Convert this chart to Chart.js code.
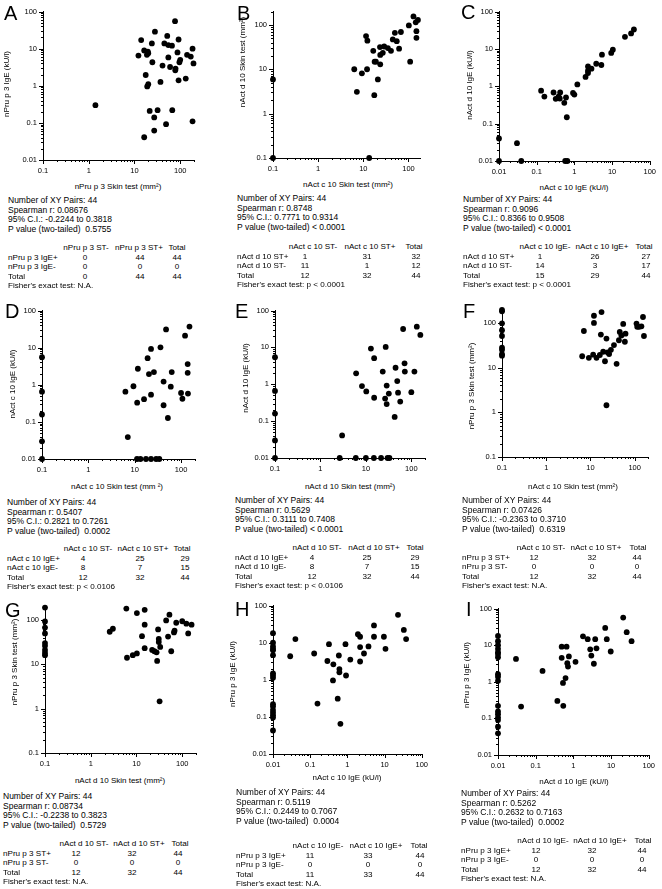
<!DOCTYPE html>
<html>
<head>
<meta charset="utf-8">
<script src="https://cdn.jsdelivr.net/npm/chart.js@4.4.1/dist/chart.umd.min.js"></script>
<style>
  html, body { margin: 0; padding: 0; background: #fff; }
  #page { position: relative; width: 662px; height: 889px; overflow: hidden;
          font-family: "Liberation Sans", Arial, Helvetica, sans-serif; color: #000; }
  .box { position: absolute; }
  .t { position: absolute; white-space: pre; font-size: 8.5px; line-height: 10px; }
  .tb { position: absolute; white-space: pre; font-size: 8.1px; line-height: 10px; }
  .ax { position: absolute; white-space: pre; font-size: 8px; line-height: 10px; }
  .letter { position: absolute; font-size: 20px; line-height: 20px; }
</style>
</head>
<body>
<div id="page"></div>
<script>
// ---- values (x, y per panel) ----
const ptsAx = [1.4, 77, 28, 52, 14, 92, 24, 45, 55, 66, 186, 16.3, 19.6, 12.2, 18.7, 20, 87, 141, 170, 55, 100, 96, 24.6, 195, 41, 60, 79, 78, 17.6, 132, 92, 37, 20, 19, 21.5, 32, 67, 27, 186, 49, 27, 16.3];
const ptsAy = [0.30, 55, 28.6, 22, 17, 17.6, 13.8, 13.8, 12.5, 12, 10, 8.9, 8.3, 6.5, 6.8, 7.5, 7.9, 6.8, 6.1, 5.8, 5.0, 4.3, 4.3, 4.0, 3.5, 3.2, 2.9, 2.6, 1.95, 1.56, 1.4, 1.27, 1.1, 0.96, 0.21, 0.22, 0.22, 0.14, 0.11, 0.092, 0.062, 0.041];

const ptsBx = [0.1, 0.1, 13.5, 129, 162, 145, 102, 11.5, 12.3, 68, 50, 150, 150, 45, 55, 29, 23.4, 35, 41, 62, 16.6, 27, 23.7, 19, 17.8, 23.7, 109, 6.3, 12.1, 9.3, 21, 7.2, 17.5];
const ptsBy = [5.9, 0.1, 0.1, 155, 129, 114, 97, 56, 44, 69, 66, 72, 51, 47, 43, 32.5, 31.6, 30, 26, 29, 26, 23.4, 21, 14.8, 14.8, 12.9, 14.8, 10, 10, 8.1, 5.9, 3.1, 2.6];

const ptsCx = [0.01, 0.01, 0.030, 0.039, 0.57, 0.65, 0.131, 0.16, 0.28, 0.32, 0.41, 0.42, 0.38, 0.54, 0.6, 0.63, 0.92, 1.0, 1.2, 1.98, 2.3, 2.3, 2.3, 2.84, 3.8, 5.2, 5.4, 9.5, 10.5, 22, 32, 38];
const ptsCy = [0.040, 0.01, 0.030, 0.01, 0.01, 0.01, 0.76, 0.53, 0.68, 0.46, 0.47, 0.68, 0.53, 0.36, 0.5, 0.148, 0.66, 0.6, 1.12, 1.78, 3.4, 2.6, 2.26, 2.96, 4.0, 3.7, 7.0, 7.8, 9.5, 21, 25.9, 33];

const ptsDx = [0.1, 0.1, 0.1, 0.1, 0.1, 6.3, 7.1, 9.4, 11.7, 11.3, 15.9, 19, 22.5, 20.3, 26, 22.5, 36, 47.5, 42, 42, 52, 60, 63, 100, 107, 122, 152, 139, 139, 141, 11.2, 13.3, 17.5, 22.5, 29, 34];
const ptsDy = [5.5, 0.65, 0.158, 0.030, 0.01, 0.65, 0.039, 0.91, 2.7, 0.33, 0.41, 5.2, 9.2, 1.94, 2.2, 0.54, 10.2, 31, 1.22, 0.28, 0.127, 0.89, 2.2, 0.60, 0.42, 21, 37, 3.6, 2.1, 0.58, 0.01, 0.01, 0.01, 0.01, 0.01, 0.01];

const ptsEx = [0.1, 0.1, 0.1, 0.1, 0.1, 2.65, 3.0, 6.0, 10, 15, 21.6, 30, 33, 6.1, 8.2, 10.2, 12.9, 15.2, 15.2, 23.5, 27.3, 26.5, 28.7, 28.7, 32, 43, 45, 49, 51, 57, 66, 71, 72, 100, 117, 132, 158];
const ptsEy = [5.4, 0.66, 0.16, 0.030, 0.01, 0.01, 0.041, 0.01, 0.01, 0.01, 0.01, 0.01, 0.01, 1.98, 0.89, 0.64, 9.3, 5.1, 0.43, 2.2, 10.3, 0.41, 0.92, 0.29, 0.56, 0.13, 2.8, 1.22, 0.59, 0.34, 31.5, 3.7, 2.2, 0.61, 2.2, 36.5, 21.7];

const ptsFx = [0.1, 0.1, 0.1, 0.1, 0.1, 0.1, 0.1, 0.1, 0.1, 7.1, 12, 12, 17.8, 17.2, 23, 55, 46, 50, 62, 44, 60, 34, 110, 126, 142, 154, 162, 114, 6.5, 9.2, 11.5, 13.7, 16.3, 19.4, 21.3, 24.4, 26.4, 29, 39, 23];
const ptsFy = [195, 182, 98, 69, 51, 28, 25, 20, 18.5, 66, 145, 100, 175, 55, 44.6, 95, 63, 52.5, 57.5, 41, 38, 32, 97, 82, 84, 136, 51, 82, 18, 16.6, 19.5, 16.6, 19.2, 22.7, 13.9, 22, 20.2, 25, 12.2, 1.44];

const ptsGx = [0.1, 0.1, 0.1, 0.1, 0.1, 0.1, 0.1, 0.1, 0.1, 2.6, 3.05, 6.0, 10.2, 15.1, 15.1, 13.2, 15.1, 6.2, 8.3, 10.2, 22, 24.6, 27.5, 28.3, 29.7, 30.7, 30.7, 33, 49, 44.5, 52.5, 57.5, 66, 68, 74, 100, 123, 135, 160, 32];
const ptsGy = [189, 92, 67, 49.5, 30, 26, 21, 18, 16, 54, 63, 180, 142, 168, 78, 43, 23, 14, 16, 17.5, 21, 19.6, 18.6, 11.9, 61, 37, 31.5, 24.5, 42, 97, 131, 19.6, 52, 57, 86, 93, 82, 49.5, 78, 1.46];

const ptsHx = [0.01, 0.01, 0.01, 0.01, 0.01, 0.01, 0.01, 0.01, 0.01, 0.01, 0.01, 0.01, 0.01, 0.01, 0.01, 0.01, 0.029, 0.040, 0.128, 0.157, 0.29, 0.32, 0.42, 0.41, 0.59, 0.61, 0.61, 0.55, 0.65, 0.89, 0.92, 1.2, 1.92, 2.2, 2.2, 2.2, 2.8, 3.7, 5.2, 5.2, 9.6, 10.6, 23, 33, 38];
const ptsHy = [18, 10, 7.9, 6.8, 6.2, 4.6, 1.49, 1.3, 1.13, 0.22, 0.19, 0.152, 0.13, 0.11, 0.096, 0.043, 4.3, 12.5, 5.1, 0.228, 3.2, 9.1, 2.6, 0.96, 4.5, 1.94, 1.58, 0.31, 0.065, 9.1, 1.3, 3.5, 16.8, 14.4, 7.6, 3.1, 5.1, 7.9, 29, 14.4, 14.4, 6.8, 56, 22, 12.5];

const ptsIx = [0.01, 0.01, 0.01, 0.01, 0.01, 0.01, 0.01, 0.01, 0.01, 0.01, 0.01, 0.01, 0.01, 0.01, 0.01, 0.01, 0.01, 0.030, 0.041, 0.152, 0.376, 0.49, 0.49, 0.53, 0.54, 0.62, 0.66, 0.69, 0.72, 0.76, 1.14, 1.8, 2.4, 2.8, 3.0, 3.5, 3.8, 4.1, 7.0, 7.7, 9.8, 21, 26, 35];
const ptsIy = [17.8, 12.8, 10, 7.9, 6.4, 5.7, 4.7, 1.6, 1.37, 1.06, 0.22, 0.155, 0.13, 0.105, 0.09, 0.059, 0.039, 4.2, 0.21, 1.98, 0.30, 9.1, 4.5, 0.93, 0.22, 1.26, 9.1, 3.2, 2.6, 4.9, 3.5, 17.4, 14.5, 7.7, 5.2, 3.1, 14.5, 8.2, 29.5, 14.5, 6.7, 56.6, 22.6, 12.8];

// ---- axis tick labels ----
const skinTicks = [0.1, 1, 10, 100];
const igeTicks = [0.01, 0.1, 1, 10, 100];

// ---- text blocks ----
const statsA = ["Number of XY Pairs: 44", "Spearman r: 0.08676", "95% C.I.: -0.2244 to 0.3818", "P value (two-tailed)  0.5755"];
const statsB = ["Number of XY Pairs: 44", "Spearman r: 0.8748", "95% C.I.: 0.7771 to 0.9314", "P value (two-tailed) < 0.0001"];
const statsC = ["Number of XY Pairs: 44", "Spearman r: 0.9096", "95% C.I.: 0.8366 to 0.9508", "P value (two-tailed) < 0.0001"];
const statsD = ["Number of XY Pairs: 44", "Spearman r: 0.5407", "95% C.I.: 0.2821 to 0.7261", "P value (two-tailed)  0.0002"];
const statsE = ["Number of XY Pairs: 44", "Spearman r: 0.5629", "95% C.I.: 0.3111 to 0.7408", "P value (two-tailed) < 0.0001"];
const statsF = ["Number of XY Pairs: 44", "Spearman r: 0.07426", "95% C.I.: -0.2363 to 0.3710", "P value (two-tailed)  0.6319"];
const statsG = ["Number of XY Pairs: 44", "Spearman r: 0.08734", "95% C.I.: -0.2238 to 0.3823", "P value (two-tailed)  0.5729"];
const statsH = ["Number of XY Pairs: 44", "Spearman r: 0.5119", "95% C.I.: 0.2449 to 0.7067", "P value (two-tailed)  0.0004"];
const statsI = ["Number of XY Pairs: 44", "Spearman r: 0.5262", "95% C.I.: 0.2632 to 0.7163", "P value (two-tailed)  0.0002"];

const tableA = [["", "nPru p 3 ST-", "nPru p 3 ST+", "Total"], ["nPru p 3 IgE+", "0", "44", "44"], ["nPru p 3 IgE-", "0", "0", "0"], ["Total", "0", "44", "44"]];
const tableB = [["", "nAct c 10 ST-", "nAct c 10 ST+", "Total"], ["nAct d 10 ST+", "1", "31", "32"], ["nAct d 10 ST-", "11", "1", "12"], ["Total", "12", "32", "44"]];
const tableC = [["", "nAct c 10 IgE-", "nAct c 10 IgE+", "Total"], ["nAct d 10 ST+", "1", "26", "27"], ["nAct d 10 ST-", "14", "3", "17"], ["Total", "15", "29", "44"]];
const tableD = [["", "nAct c 10 ST-", "nAct c 10 ST+", "Total"], ["nAct c 10 IgE+", "4", "25", "29"], ["nAct c 10 IgE-", "8", "7", "15"], ["Total", "12", "32", "44"]];
const tableE = [["", "nAct d 10 ST-", "nAct d 10 ST+", "Total"], ["nAct d 10 IgE+", "4", "25", "29"], ["nAct d 10 IgE-", "8", "7", "15"], ["Total", "12", "32", "44"]];
const tableF = [["", "nAct c 10 ST-", "nAct c 10 ST+", "Total"], ["nPru p 3 ST+", "12", "32", "44"], ["nPru p 3 ST-", "0", "0", "0"], ["Total", "12", "32", "44"]];
const tableG = [["", "nAct d 10 ST-", "nAct d 10 ST+", "Total"], ["nPru p 3 ST+", "12", "32", "44"], ["nPru p 3 ST-", "0", "0", "0"], ["Total", "12", "32", "44"]];
const tableH = [["", "nAct c 10 IgE-", "nAct c 10 IgE+", "Total"], ["nPru p 3 IgE+", "11", "33", "44"], ["nPru p 3 IgE-", "0", "0", "0"], ["Total", "11", "33", "44"]];
const tableI = [["", "nAct d 10 IgE-", "nAct d 10 IgE+", "Total"], ["nPru p 3 IgE+", "12", "32", "44"], ["nPru p 3 IgE-", "0", "0", "0"], ["Total", "12", "32", "44"]];

const fisherNA = "Fisher's exact test: N.A.";

const FONT = '"Liberation Sans", Arial, Helvetica, sans-serif';

// area = [left, top, right, bottom] of the plot box in page pixels
const panels = [
  { L: "A", xs: ptsAx, ys: ptsAy, xr: [0.1, 200], yr: [0.01, 100], xt: skinTicks, yt: igeTicks, area: [43, 7, 194, 160],
    letter: [4, 6], xTitle: ["nPru p 3 Skin test (mm²)", 118, 187], yTitle: ["nPru p 3 IgE (kU/l)", 7, 84],
    stats: statsA, table: tableA, fisher: fisherNA, tx: 8, sy: 200, ty: 248, hc: [78, 131, 169], vc: [77, 132, 169] },
  { L: "B", xs: ptsBx, ys: ptsBy, xr: [0.1, 180], yr: [0.1, 200], xt: skinTicks, yt: skinTicks, area: [273, 7, 420, 158],
    letter: [237, 6], xTitle: ["nAct c 10 Skin test (mm²)", 348, 185], yTitle: ["nAct d 10 Skin test (mm²)", 243, 62],
    stats: statsB, table: tableB, fisher: "Fisher's exact test: p < 0.0001", tx: 237, sy: 198, ty: 247, hc: [76, 133, 177], vc: [68, 130, 179] },
  { L: "C", xs: ptsCx, ys: ptsCy, xr: [0.01, 100], yr: [0.01, 100], xt: igeTicks, yt: igeTicks, area: [499, 7, 652, 161],
    letter: [461, 5], xTitle: ["nAct c 10 IgE (kU/l)", 574, 188], yTitle: ["nAct d 10 IgE (kU/l)", 470, 85],
    stats: statsC, table: tableC, fisher: "Fisher's exact test: p < 0.0001", tx: 463, sy: 199, ty: 247, hc: [82, 139, 181], vc: [77, 132, 183] },
  { L: "D", xs: ptsDx, ys: ptsDy, xr: [0.1, 200], yr: [0.01, 100], xt: skinTicks, yt: igeTicks, area: [42, 306, 195, 459],
    letter: [5, 304], xTitle: ["nAct c 10 Skin test (mm ²)", 117, 487], yTitle: ["nAct c 10 IgE (kU/l)", 13, 384],
    stats: statsD, table: tableD, fisher: "Fisher's exact test: p < 0.0106", tx: 7, sy: 502, ty: 549, hc: [81, 136, 175], vc: [76, 133, 178] },
  { L: "E", xs: ptsEx, ys: ptsEy, xr: [0.1, 200], yr: [0.01, 100], xt: skinTicks, yt: igeTicks, area: [275, 306, 425, 458],
    letter: [235, 304], xTitle: ["nAct d 10 Skin test (mm²)", 350, 487], yTitle: ["nAct d 10 IgE (kU/l)", 246, 378],
    stats: statsE, table: tableE, fisher: "Fisher's exact test: p < 0.0106", tx: 235, sy: 500, ty: 548, hc: [82, 139, 180], vc: [77, 132, 180] },
  { L: "F", xs: ptsFx, ys: ptsFy, xr: [0.1, 200], yr: [0.1, 200], xt: skinTicks, yt: skinTicks, area: [502, 305, 648, 457],
    letter: [463, 304], xTitle: ["nAct c 10 Skin test (mm²)", 573, 487], yTitle: ["nPru p 3 Skin test (mm²)", 472, 386],
    stats: statsF, table: tableF, fisher: fisherNA, tx: 462, sy: 500, ty: 548, hc: [79, 134, 176], vc: [72, 130, 175] },
  { L: "G", xs: ptsGx, ys: ptsGy, xr: [0.1, 200], yr: [0.1, 200], xt: skinTicks, yt: skinTicks, area: [45, 602, 196, 753],
    letter: [5, 603], xTitle: ["nAct d 10 Skin test (mm²)", 120, 781], yTitle: ["nPru p 3 Skin test (mm²)", 15, 662],
    stats: statsG, table: tableG, fisher: fisherNA, tx: 3, sy: 796, ty: 844, hc: [81, 136, 177], vc: [73, 129, 175] },
  { L: "H", xs: ptsHx, ys: ptsHy, xr: [0.01, 100], yr: [0.01, 100], xt: igeTicks, yt: igeTicks, area: [273, 601, 424, 754],
    letter: [235, 602], xTitle: ["nAct c 10 IgE (kU/l)", 347, 778], yTitle: ["nPru p 3 IgE (kU/l)", 233, 674],
    stats: statsH, table: tableH, fisher: fisherNA, tx: 236, sy: 792, ty: 846, hc: [82, 140, 183], vc: [74, 132, 184] },
  { L: "I", xs: ptsIx, ys: ptsIy, xr: [0.01, 100], yr: [0.01, 100], xt: igeTicks, yt: igeTicks, area: [498, 604, 651, 755],
    letter: [466, 602], xTitle: ["nAct d 10 IgE (kU/l)", 574, 782], yTitle: ["nPru p 3 IgE (kU/l)", 467, 675],
    stats: statsI, table: tableI, fisher: fisherNA, tx: 461, sy: 793, ty: 841, hc: [82, 139, 182], vc: [75, 131, 181] },
];

const page = document.getElementById("page");

const put = (cls, text, left, top, extra) => {
  const el = document.createElement("div");
  el.className = cls;
  el.textContent = text;
  el.style.left = left + "px";
  el.style.top = top + "px";
  if (extra) Object.assign(el.style, extra);
  page.appendChild(el);
  return el;
};

// decade ticks plus the 2..9 minor ones inside the range
const buildTicks = (range, majors) => {
  const out = [];
  majors.forEach((m) => {
    for (let k = 1; k <= 9; k++) {
      const v = +(k * m).toPrecision(4);
      if (v >= range[0] && v <= range[1]) out.push({ value: v, major: k === 1 });
    }
  });
  return out;
};

// GraphPad-style outward tick marks: long at decades, short in between
const tickMarks = {
  id: "tickMarks",
  afterDraw(chart) {
    const { ctx, chartArea, scales } = chart;
    ctx.save();
    ctx.strokeStyle = "#000";
    ctx.lineWidth = 1;
    scales.x.ticks.forEach((t) => {
      const p = Math.round(scales.x.getPixelForValue(t.value)) + 0.5;
      ctx.beginPath();
      ctx.moveTo(p, chartArea.bottom);
      ctx.lineTo(p, chartArea.bottom + (t.major ? 4 : 2));
      ctx.stroke();
    });
    scales.y.ticks.forEach((t) => {
      const p = Math.round(scales.y.getPixelForValue(t.value)) + 0.5;
      ctx.beginPath();
      ctx.moveTo(chartArea.left, p);
      ctx.lineTo(chartArea.left - (t.major ? 4 : 2), p);
      ctx.stroke();
    });
    ctx.restore();
  },
};

const logAxis = (range, majors, isX) => ({
  type: "logarithmic",
  position: isX ? "bottom" : "left",
  min: range[0],
  max: range[1],
  bounds: "data",
  grid: { display: false, drawTicks: false },
  border: { display: true, color: "#000", width: 1 },
  ticks: {
    autoSkip: false,
    maxRotation: 0,
    minRotation: 0,
    padding: 6,
    color: "#000",
    font: { family: FONT, size: 7.5 },
    callback: (v) => (majors.includes(v) ? String(v) : ""),
  },
  afterBuildTicks: (axis) => {
    axis.ticks = buildTicks(range, majors);
  },
  afterFit: (axis) => {
    if (isX) axis.height = 20;
    else axis.width = 40;
  },
});

panels.forEach((p) => {
  const [left, top, right, bottom] = p.area;
  const cx = left - 40;
  const cy = top - 6;
  const cw = right - cx + 10;
  const ch = bottom - cy + 20;

  const box = document.createElement("div");
  box.className = "box";
  box.style.cssText = `left:${cx}px;top:${cy}px;width:${cw}px;height:${ch}px;`;
  const canvas = document.createElement("canvas");
  box.appendChild(canvas);
  page.appendChild(box);

  new Chart(canvas, {
    type: "scatter",
    data: {
      datasets: [
        {
          data: p.xs.map((x, i) => ({ x: x, y: p.ys[i] })),
          backgroundColor: "#000",
          borderWidth: 0,
          pointRadius: 2.9,
          pointHoverRadius: 2.9,
          clip: false,
        },
      ],
    },
    options: {
      responsive: true,
      maintainAspectRatio: false,
      devicePixelRatio: 1,
      animation: false,
      events: [],
      layout: { padding: { top: 6, right: 10, bottom: 0, left: 0 } },
      plugins: { legend: { display: false }, tooltip: { enabled: false } },
      scales: {
        x: logAxis(p.xr, p.xt, true),
        y: logAxis(p.yr, p.yt, false),
      },
    },
    plugins: [tickMarks],
  });

  // panel letter and axis titles
  put("letter", p.L, p.letter[0], p.letter[1] - 3);
  put("ax", p.xTitle[0], p.xTitle[1], p.xTitle[2] - 5, { transform: "translateX(-50%)" });
  put("ax", p.yTitle[0], p.yTitle[1], p.yTitle[2], { transform: "translate(-50%,-50%) rotate(-90deg)" });

  // statistics lines
  p.stats.forEach((line, i) => put("t", line, p.tx, p.sy + i * 9.7 - 5));

  // contingency table
  p.table.forEach((row, r) => {
    const y = p.ty + r * 9.6 - 5;
    if (row[0]) put("tb", row[0], p.tx, y);
    const centers = r === 0 ? p.hc : p.vc;
    for (let j = 1; j <= 3; j++) {
      put("tb", row[j], p.tx + centers[j - 1], y, { transform: "translateX(-50%)" });
    }
  });
  put("tb", p.fisher, p.tx, p.ty + 4 * 9.6 - 5);
});
</script>
</body>
</html>
